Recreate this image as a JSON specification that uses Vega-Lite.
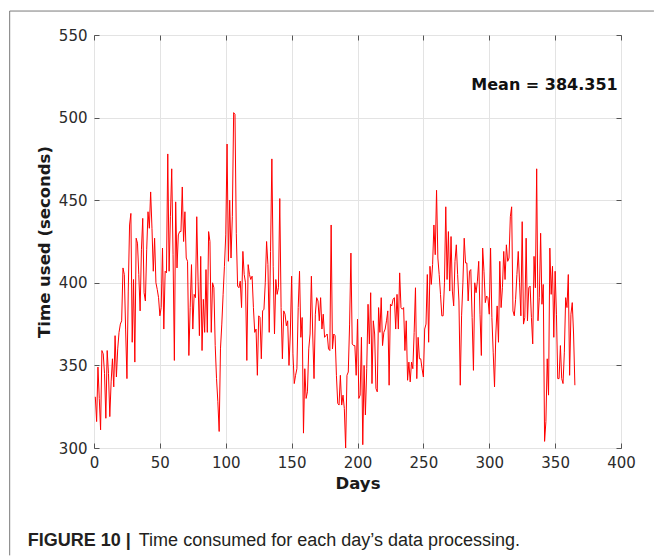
{
  "$schema": "https://vega.github.io/schema/vega-lite/v6.json",
  "width": 527,
  "height": 413,
  "padding": {"left": 9, "top": 10, "right": 0, "bottom": 0},
  "background": "white",
  "config": {
    "view": {"stroke": "#666666", "strokeWidth": 1},
    "axis": {"labelFont": "DejaVu Sans", "titleFont": "DejaVu Sans"}
  },
  "resolve": {"axis": {"x": "independent", "y": "independent"}},
  "layer": [
    {
      "data": {"values": [
{"day":1,"time":331},{"day":2,"time":316},{"day":3,"time":349},{"day":4,"time":330},{"day":5,"time":311},{"day":6,"time":359},{"day":7,"time":357},{"day":8,"time":345},{"day":9,"time":318},{"day":10,"time":359},
{"day":11,"time":345},{"day":12,"time":319},{"day":13,"time":340},{"day":14,"time":354},{"day":15,"time":337},{"day":16,"time":368},{"day":17,"time":343},{"day":18,"time":360},{"day":19,"time":370},{"day":20,"time":375},
{"day":21,"time":377},{"day":22,"time":409},{"day":23,"time":405},{"day":24,"time":372},{"day":25,"time":342},{"day":26,"time":395},{"day":27,"time":435},{"day":28,"time":442},{"day":29,"time":364},{"day":30,"time":402},
{"day":31,"time":352},{"day":32,"time":427},{"day":33,"time":424},{"day":34,"time":405},{"day":35,"time":383},{"day":36,"time":420},{"day":37,"time":439},{"day":38,"time":394},{"day":39,"time":389},{"day":40,"time":420},
{"day":41,"time":443},{"day":42,"time":433},{"day":43,"time":455},{"day":44,"time":433},{"day":45,"time":407},{"day":46,"time":427},{"day":47,"time":400},{"day":48,"time":396},{"day":49,"time":391},{"day":50,"time":380},
{"day":51,"time":385},{"day":52,"time":421},{"day":53,"time":372},{"day":54,"time":407},{"day":55,"time":406},{"day":56,"time":478},{"day":57,"time":407},{"day":58,"time":440},{"day":59,"time":469},{"day":60,"time":417},
{"day":61,"time":353},{"day":62,"time":449},{"day":63,"time":409},{"day":64,"time":429},{"day":65,"time":431},{"day":66,"time":431},{"day":67,"time":458},{"day":68,"time":425},{"day":69,"time":443},{"day":70,"time":415},
{"day":71,"time":413},{"day":72,"time":356},{"day":73,"time":385},{"day":74,"time":411},{"day":75,"time":372},{"day":76,"time":393},{"day":77,"time":391},{"day":78,"time":440},{"day":79,"time":401},{"day":80,"time":368},
{"day":81,"time":416},{"day":82,"time":359},{"day":83,"time":390},{"day":84,"time":370},{"day":85,"time":408},{"day":86,"time":370},{"day":87,"time":431},{"day":88,"time":425},{"day":89,"time":370},{"day":90,"time":400},
{"day":91,"time":397},{"day":92,"time":362},{"day":93,"time":342},{"day":94,"time":328},{"day":95,"time":310},{"day":96,"time":360},{"day":97,"time":375},{"day":98,"time":393},{"day":99,"time":410},{"day":100,"time":429},
{"day":101,"time":484},{"day":102,"time":413},{"day":103,"time":450},{"day":104,"time":415},{"day":105,"time":440},{"day":106,"time":503},{"day":107,"time":502},{"day":108,"time":430},{"day":109,"time":398},{"day":110,"time":397},
{"day":111,"time":401},{"day":112,"time":385},{"day":113,"time":419},{"day":114,"time":405},{"day":115,"time":400},{"day":116,"time":353},{"day":117,"time":411},{"day":118,"time":405},{"day":119,"time":402},{"day":120,"time":404},
{"day":121,"time":385},{"day":122,"time":370},{"day":123,"time":372},{"day":124,"time":344},{"day":125,"time":380},{"day":126,"time":379},{"day":127,"time":354},{"day":128,"time":383},{"day":129,"time":384},{"day":130,"time":400},
{"day":131,"time":425},{"day":132,"time":411},{"day":133,"time":370},{"day":134,"time":419},{"day":135,"time":475},{"day":136,"time":410},{"day":137,"time":369},{"day":138,"time":402},{"day":139,"time":393},{"day":140,"time":397},
{"day":141,"time":451},{"day":142,"time":385},{"day":143,"time":354},{"day":144,"time":383},{"day":145,"time":381},{"day":146,"time":374},{"day":147,"time":377},{"day":148,"time":350},{"day":149,"time":369},{"day":150,"time":404},
{"day":151,"time":357},{"day":152,"time":339},{"day":153,"time":344},{"day":154,"time":348},{"day":155,"time":385},{"day":156,"time":407},{"day":157,"time":367},{"day":158,"time":379},{"day":159,"time":309},{"day":160,"time":348},
{"day":161,"time":330},{"day":162,"time":334},{"day":163,"time":360},{"day":164,"time":369},{"day":165,"time":404},{"day":166,"time":369},{"day":167,"time":342},{"day":168,"time":381},{"day":169,"time":391},{"day":170,"time":389},
{"day":171,"time":377},{"day":172,"time":391},{"day":173,"time":372},{"day":174,"time":381},{"day":175,"time":367},{"day":176,"time":368},{"day":177,"time":369},{"day":178,"time":360},{"day":179,"time":359},{"day":180,"time":435},
{"day":181,"time":360},{"day":182,"time":369},{"day":183,"time":368},{"day":184,"time":344},{"day":185,"time":327},{"day":186,"time":326},{"day":187,"time":344},{"day":188,"time":326},{"day":189,"time":332},{"day":190,"time":324},
{"day":191,"time":300},{"day":192,"time":344},{"day":193,"time":346},{"day":194,"time":375},{"day":195,"time":418},{"day":196,"time":363},{"day":197,"time":362},{"day":198,"time":362},{"day":199,"time":344},{"day":200,"time":378},
{"day":201,"time":330},{"day":202,"time":332},{"day":203,"time":367},{"day":204,"time":302},{"day":205,"time":350},{"day":206,"time":320},{"day":207,"time":348},{"day":208,"time":387},{"day":209,"time":363},{"day":210,"time":394},
{"day":211,"time":339},{"day":212,"time":377},{"day":213,"time":369},{"day":214,"time":336},{"day":215,"time":334},{"day":216,"time":385},{"day":217,"time":370},{"day":218,"time":391},{"day":219,"time":362},{"day":220,"time":370},
{"day":221,"time":372},{"day":222,"time":377},{"day":223,"time":383},{"day":224,"time":338},{"day":225,"time":387},{"day":226,"time":386},{"day":227,"time":390},{"day":228,"time":391},{"day":229,"time":372},{"day":230,"time":393},
{"day":231,"time":372},{"day":232,"time":406},{"day":233,"time":385},{"day":234,"time":384},{"day":235,"time":385},{"day":236,"time":359},{"day":237,"time":377},{"day":238,"time":341},{"day":239,"time":352},{"day":240,"time":340},
{"day":241,"time":352},{"day":242,"time":348},{"day":243,"time":370},{"day":244,"time":397},{"day":245,"time":342},{"day":246,"time":367},{"day":247,"time":354},{"day":248,"time":354},{"day":249,"time":348},{"day":250,"time":343},
{"day":251,"time":372},{"day":252,"time":375},{"day":253,"time":405},{"day":254,"time":364},{"day":255,"time":410},{"day":256,"time":399},{"day":257,"time":411},{"day":258,"time":435},{"day":259,"time":417},{"day":260,"time":456},
{"day":261,"time":415},{"day":262,"time":405},{"day":263,"time":393},{"day":264,"time":380},{"day":265,"time":380},{"day":266,"time":400},{"day":267,"time":446},{"day":268,"time":402},{"day":269,"time":431},{"day":270,"time":395},
{"day":271,"time":428},{"day":272,"time":395},{"day":273,"time":386},{"day":274,"time":413},{"day":275,"time":423},{"day":276,"time":405},{"day":277,"time":389},{"day":278,"time":338},{"day":279,"time":380},{"day":280,"time":400},
{"day":281,"time":427},{"day":282,"time":412},{"day":283,"time":412},{"day":284,"time":389},{"day":285,"time":407},{"day":286,"time":408},{"day":287,"time":379},{"day":288,"time":347},{"day":289,"time":400},{"day":290,"time":394},
{"day":291,"time":401},{"day":292,"time":413},{"day":293,"time":381},{"day":294,"time":356},{"day":295,"time":421},{"day":296,"time":407},{"day":297,"time":388},{"day":298,"time":392},{"day":299,"time":391},{"day":300,"time":381},
{"day":301,"time":421},{"day":302,"time":379},{"day":303,"time":358},{"day":304,"time":337},{"day":305,"time":369},{"day":306,"time":386},{"day":307,"time":364},{"day":308,"time":413},{"day":309,"time":385},{"day":310,"time":397},
{"day":311,"time":419},{"day":312,"time":402},{"day":313,"time":423},{"day":314,"time":413},{"day":315,"time":415},{"day":316,"time":440},{"day":317,"time":446},{"day":318,"time":383},{"day":319,"time":380},{"day":320,"time":390},
{"day":321,"time":405},{"day":322,"time":419},{"day":323,"time":400},{"day":324,"time":380},{"day":325,"time":437},{"day":326,"time":375},{"day":327,"time":379},{"day":328,"time":427},{"day":329,"time":377},{"day":330,"time":397},
{"day":331,"time":398},{"day":332,"time":379},{"day":333,"time":363},{"day":334,"time":416},{"day":335,"time":397},{"day":336,"time":469},{"day":337,"time":377},{"day":338,"time":391},{"day":339,"time":430},{"day":340,"time":387},
{"day":341,"time":399},{"day":342,"time":304},{"day":343,"time":316},{"day":344,"time":354},{"day":345,"time":332},{"day":346,"time":421},{"day":347,"time":393},{"day":348,"time":410},{"day":349,"time":367},{"day":350,"time":407},
{"day":351,"time":381},{"day":352,"time":342},{"day":353,"time":342},{"day":354,"time":362},{"day":355,"time":342},{"day":356,"time":339},{"day":357,"time":358},{"day":358,"time":391},{"day":359,"time":385},{"day":360,"time":405},
{"day":361,"time":344},{"day":362,"time":381},{"day":363,"time":388},{"day":364,"time":369},{"day":365,"time":338}
      ]},
      "mark": {"type": "line", "color": "#ff0000", "strokeWidth": 1},
      "encoding": {
        "x": {"field": "day", "type": "quantitative",
              "scale": {"domain": [0, 400], "nice": false},
              "axis": {"orient": "bottom", "values": [0,50,100,150,200,250,300,350,400],
                       "grid": true, "gridColor": "#e3e3e3", "gridWidth": 1,
                       "domain": false, "ticks": true, "tickSize": -5, "tickColor": "#555555",
                       "labelFontSize": 15, "labelColor": "#2b2b2b", "labelPadding": 12, "labelFlush": false,
                       "title": "Days", "titleFontSize": 16.5, "titleFontWeight": "bold", "titleColor": "#1a1a1a", "titlePadding": 5}},
        "y": {"field": "time", "type": "quantitative",
              "scale": {"domain": [300, 550], "nice": false},
              "axis": {"orient": "left", "values": [300,350,400,450,500,550],
                       "grid": true, "gridColor": "#e3e3e3", "gridWidth": 1,
                       "domain": false, "ticks": true, "tickSize": -5, "tickColor": "#555555",
                       "labelFontSize": 15, "labelColor": "#2b2b2b", "labelPadding": 12, "labelFlush": false,
                       "title": "Time used (seconds)", "titleFontSize": 16.5, "titleFontWeight": "bold", "titleColor": "#1a1a1a", "titlePadding": 6}}
      }
    },
    {
      "data": {"values": [{}]},
      "mark": {"type": "text", "align": "right", "baseline": "middle", "font": "DejaVu Sans", "fontWeight": "bold", "fontSize": 16, "color": "#111111"},
      "encoding": {
        "x": {"datum": 397.5, "scale": {"domain": [0, 400], "nice": false},
              "axis": {"orient": "top", "values": [0,50,100,150,200,250,300,350,400], "labels": false, "grid": false, "domain": false, "ticks": true, "tickSize": -5, "tickColor": "#555555", "title": null}},
        "y": {"datum": 519.7, "scale": {"domain": [300, 550], "nice": false},
              "axis": {"orient": "right", "values": [300,350,400,450,500,550], "labels": false, "grid": false, "domain": false, "ticks": true, "tickSize": -5, "tickColor": "#555555", "title": null}},
        "text": {"value": "Mean = 384.351"}
      }
    },
    {
      "data": {"values": [{}]},
      "mark": {"type": "rule", "color": "#7a7a7a", "strokeWidth": 1},
      "encoding": {
        "x": {"datum": -64, "axis": null},
        "y": {"datum": 564.5, "axis": null},
        "y2": {"datum": 235}
      }
    },
    {
      "data": {"values": [{}]},
      "mark": {"type": "rule", "color": "#7a7a7a", "strokeWidth": 1},
      "encoding": {
        "x": {"datum": -64, "axis": null},
        "x2": {"datum": 425},
        "y": {"datum": 564.5, "axis": null}
      }
    },
    {
      "data": {"values": [{}]},
      "mark": {"type": "text", "align": "left", "baseline": "alphabetic", "font": "Liberation Sans", "fontWeight": "bold", "fontSize": 18, "color": "#231f20"},
      "encoding": {
        "x": {"datum": -50.3, "axis": null},
        "y": {"datum": 240.7, "axis": null},
        "text": {"value": "FIGURE 10 |"}
      }
    },
    {
      "data": {"values": [{}]},
      "mark": {"type": "text", "align": "left", "baseline": "alphabetic", "font": "Liberation Sans", "fontWeight": "normal", "fontSize": 18, "color": "#231f20"},
      "encoding": {
        "x": {"datum": 34, "axis": null},
        "y": {"datum": 240.7, "axis": null},
        "text": {"value": "Time consumed for each day’s data processing."}
      }
    }
  ]
}
